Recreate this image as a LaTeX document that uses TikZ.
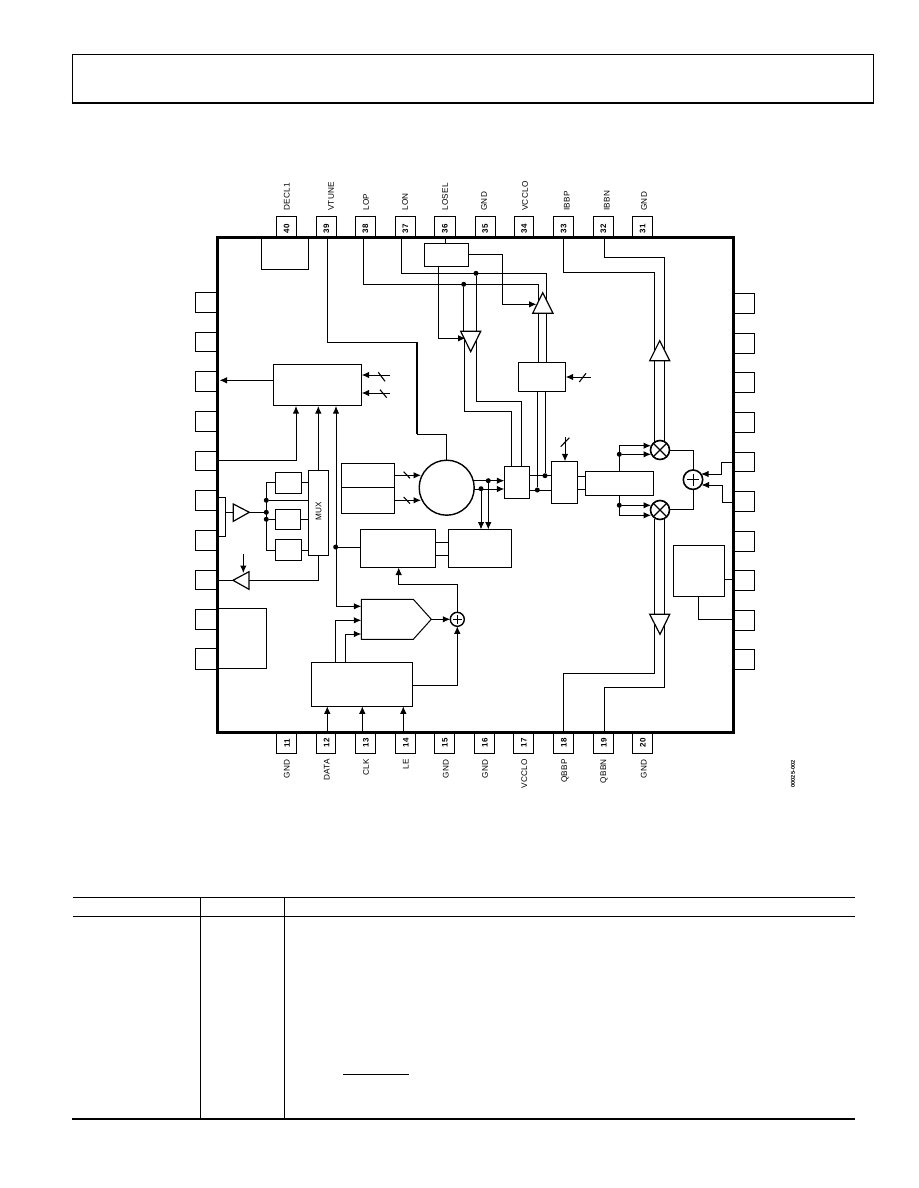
\documentclass[tikz,border=0pt]{standalone}
\usepackage{fontspec}
\setmainfont{Liberation Sans}
\newfontfamily\labfont[LetterSpace=4]{Liberation Sans}
\usetikzlibrary{arrows.meta,calc}
\tikzset{
 x=1pt,y=-1pt,
 wire/.style={line width=1pt,line join=miter},
 arr/.style={wire,-{Latex[length=7.5pt,width=6.5pt]}},
 blk/.style={draw,line width=1pt,inner sep=0pt,outer sep=0pt,fill=white},
 dotn/.style={circle,fill=black,inner sep=0pt,minimum size=5pt},
 shp/.style={draw,line width=1.2pt,fill=white,line join=miter},
 ring/.style={circle,draw,line width=1.4pt,inner sep=0pt,outer sep=0pt,fill=white},
 pinno/.style={rotate=90,font=\labfont\fontsize{8}{8}\selectfont\bfseries,inner sep=0pt},
 pinlab/.style={rotate=90,font=\labfont\fontsize{8.2}{8}\selectfont,inner sep=0pt},
 rule/.style={line width=1pt},
}
% \bx{name}{x1}{y1}{x2}{y2}: box node from its corners
\newcommand{\bx}[5]{%
 \pgfmathsetmacro{\bxw}{#4-#2}\pgfmathsetmacro{\bxh}{#5-#3}%
 \node[blk,minimum width=\bxw pt,minimum height=\bxh pt] (#1) at ({(#2+#4)/2},{(#3+#5)/2}) {};}
% pin: name, x1, x2, label, label x
\newcommand{\pinT}[5]{\bx{p#1}{#2}{216.5}{#3}{237.5}\node[pinno] (n#1) at ({(#2+#3)/2},229) {#1};\node[pinlab,anchor=west] (t#1) at (#5,211) {#4};}
\newcommand{\pinB}[5]{\bx{p#1}{#2}{733}{#3}{753.3}\node[pinno] (n#1) at ({(#2+#3)/2+.5},743) {#1};\node[pinlab,anchor=east] (t#1) at (#5,759) {#4};}
\newcommand{\slashm}[4]{\draw[line width=1.1pt] (#1,#2) -- (#3,#4);}
\begin{document}
\begin{tikzpicture}
\useasboundingbox (0,0) rectangle (918,1188);
\fill[white] (0,0) rectangle (918,1188);
% page header
\draw[line width=0.9pt] (72.3,103) -- (72.3,54.7) -- (873,54.7) -- (873,103);
\draw[line width=2pt] (71.5,103.5) -- (873.5,103.5);
% pins
\pinT{40}{276.3}{296.7}{DECL1}{286.7}
\pinT{39}{316.3}{336.3}{VTUNE}{331}
\pinT{38}{355.3}{375.3}{LOP}{366}
\pinT{37}{395.3}{415.3}{LON}{405}
\pinT{36}{434.3}{455.3}{LOSEL}{445}
\pinT{35}{475.3}{495}{GND}{484}
\pinT{34}{514.3}{533.7}{VCCLO}{525}
\pinT{33}{553.7}{573.7}{IBBP}{566.7}
\pinT{32}{593.3}{613.3}{IBBN}{606.7}
\pinT{31}{632.7}{652.7}{GND}{644}
\pinB{11}{276.3}{296.7}{GND}{286.7}
\pinB{12}{316.3}{335.7}{DATA}{326.7}
\pinB{13}{355.3}{375.3}{CLK}{366}
\pinB{14}{395.3}{415.3}{LE}{405.7}
\pinB{15}{434.3}{454.3}{GND}{445.7}
\pinB{16}{474.3}{494.3}{GND}{485}
\pinB{17}{513.3}{533.3}{VCCLO}{524.3}
\pinB{18}{553.3}{573.3}{QBBP}{565}
\pinB{19}{593.3}{613.3}{QBBN}{604}
\pinB{20}{632.3}{652.3}{GND}{643.7}
\bx{L1}{195.7}{292.3}{218}{312.3}\bx{L2}{195.7}{332.3}{218}{351.7}\bx{L3}{195.7}{371.3}{218}{391.3}
\bx{L4}{195.7}{411.3}{218}{431.3}\bx{L5}{195.7}{451.3}{218}{470.3}\bx{L6}{195.7}{490.3}{218}{510.3}
\bx{L7}{195.7}{530.3}{218}{550.3}\bx{L8}{195.7}{570.3}{218}{589.3}\bx{L9}{195.7}{609.3}{218}{629.3}
\bx{L10}{195.7}{648.3}{218}{669.3}
\bx{R1}{733.5}{293.3}{754.7}{313.3}\bx{R2}{733.5}{333.3}{754.7}{353.3}\bx{R3}{733.5}{372.3}{754.7}{392.3}
\bx{R4}{733.5}{412.3}{754.7}{432.3}\bx{R5}{733.5}{452.3}{754.7}{471.3}\bx{R6}{733.5}{491.3}{754.7}{511.3}
\bx{R7}{733.5}{531.3}{754.7}{551.3}\bx{R8}{733.5}{570.3}{754.7}{590.3}\bx{R9}{733.5}{610.3}{754.7}{630.3}
\bx{R10}{733.5}{649.3}{754.7}{669.3}
% chip body
\node[draw,line width=2.8pt,fill=white,inner sep=0pt,minimum width=515.8pt,minimum height=494.6pt] (chip) at (475.6,485) {};
% blocks
\bx{decl}{261.7}{238}{308.3}{269.3}
\bx{losel}{424.3}{243.3}{468.7}{266.3}
\bx{lobuf}{518.3}{362.3}{565.7}{391.3}
\bx{cpb}{273.3}{364.3}{361.7}{405.7}
\bx{mux}{308.3}{470.3}{328.7}{555.3}
\node[pinlab] (muxt) at (318.5,511.5) {MUX};
\bx{sa}{275.3}{472.3}{301.7}{493.7}
\bx{sb}{275.3}{509.3}{300.7}{529.7}
\bx{sc}{275.3}{539.3}{301.7}{560.3}
\bx{biasa}{341.3}{463.3}{394.3}{487.3}
\bx{biasb}{341.3}{487.3}{394.3}{513.3}
\bx{lbox}{218}{608.3}{266.3}{668.3}
\bx{div}{504.3}{466.3}{529.3}{498.3}
\bx{quad}{551.3}{461.3}{577.7}{503.3}
\bx{phase}{585.3}{471.3}{653.7}{495.3}
\bx{pfd}{360.3}{529.3}{435.7}{567.3}
\bx{ndiv}{448.3}{529.3}{511.7}{567.3}
\bx{spi}{311.3}{662.3}{412.3}{706.3}
\bx{temp}{673.3}{545.3}{724.7}{596.7}
% round elements
\node[ring,minimum size=55pt] (vco) at (446.7,487.7) {};
\node[ring,line width=1.6pt,minimum size=19pt] (mxa) at (660,450) {};
\node[ring,line width=1.6pt,minimum size=19pt] (mxb) at (660,510) {};
\node[ring,line width=1.6pt,minimum size=19.4pt] (add) at (693,479.7) {};
\node[ring,minimum size=14pt] (sum) at (457.3,619.3) {};
\draw[line width=1.3pt] (mxa.north west) -- (mxa.south east) (mxa.north east) -- (mxa.south west);
\draw[line width=1.3pt] (mxb.north west) -- (mxb.south east) (mxb.north east) -- (mxb.south west);
\draw[line width=0.6pt] (add.north) ++(0,3.5) -- ++(0,12.5) (add.west) ++(3.5,0) -- ++(12.5,0);
\draw[line width=0.6pt] (sum.north) ++(0,2.5) -- ++(0,9) (sum.west) ++(2.5,0) -- ++(9,0);
% junction dots
\node[dotn] (d1) at (476,273.3) {};
\node[dotn] (d2) at (463.7,284.3) {};
\node[dotn] (d3) at (266.3,500.3) {};
\node[dotn] (d4) at (266.3,512.3) {};
\node[dotn] (d5) at (266.3,519.3) {};
\node[dotn] (d6) at (335.7,547) {};
\node[dotn] (d7) at (488.3,480.7) {};
\node[dotn] (d8) at (481,488.7) {};
\node[dotn] (d9) at (545,475.7) {};
\node[dotn] (d10) at (537.3,490) {};
\node[dotn] (d11) at (619.3,454.3) {};
\node[dotn] (d12) at (619.3,505.3) {};
% free ends
\coordinate (sa1) at (390,375);
\coordinate (sa2) at (390,393);
\coordinate (sa3) at (591,377);
\coordinate (sa4) at (565,437);
\coordinate (sa5) at (243.3,554);
% top connectors
\draw[wire] (p39.south -| 327.3,0) |- (417,342.3) -- (417,434.3) -| (vco.north);
\draw[line width=1.4pt] (417,342.3) -- (417,434.3);
\draw[wire] (p38.south -| 363.3,0) |- (538.7,284.3) -- (538.7,301);
\draw[wire] (p37.south -| 401.3,0) |- (546.3,273.3) -- (546.3,303);
\draw[wire] (p36.south -| 445.7,0) -- (losel.north -| 445.7,0);
\draw[arr] (losel.east |- 0,254.3) -| (502.3,304.3) -- (536.5,304.3);
\draw[arr] (losel.south -| 438.3,0) |- (465.5,338.3);
\draw[wire] (d2) -- (463.7,332) (d1) -- (476,332);
\draw[wire] (464.3,340) |- (511.5,411.3) -- (div.north -| 511.5,0);
\draw[wire] (476.7,340) |- (521.3,401.3) -- (div.north -| 521.3,0);
\draw[wire] (lobuf.north -| 538.7,0) -- (538.7,313);
\draw[wire] (lobuf.north -| 546.3,0) -- (546.3,313);
\draw[wire] (lobuf.south -| 545,0) -- (d9);
\draw[wire] (lobuf.south -| 537.3,0) -- (d10);
\draw[wire] (p33.south -| 563.3,0) |- (654.7,272.3) -- (654.7,350);
\draw[wire] (p32.south -| 604.3,0) |- (664.3,257.3) -- (664.3,350);
\draw[wire] (654.7,360) -- (654.7,441.5) (664.3,360) -- (664.3,441.5);
\draw[wire] (654.7,518.5) -- (654.7,614) (664.3,518.5) -- (664.3,614);
\draw[wire] (654.7,620) |- (563.3,673.3) -- (p18.north -| 563.3,0);
\draw[wire] (664.3,620) |- (604.3,687.3) -- (p19.north -| 604.3,0);
% triangles
\draw[shp] (542.7,292.7) -- (553,313.3) -- (532.7,313.3) -- cycle;
\draw[shp] (470.7,351.7) -- (480.7,331.3) -- (460.7,331.3) -- cycle;
\draw[shp] (659.7,340.7) -- (669.7,360.7) -- (649.7,360.7) -- cycle;
\draw[shp] (660,634.3) -- (669.7,614.3) -- (649.7,614.3) -- cycle;
\draw[shp] (249.3,512.3) -- (233.3,504) -- (233.3,521.3) -- cycle;
\draw[shp] (233,580.3) -- (249,571.7) -- (249,589.3) -- cycle;
\draw[shp,line width=1pt] (361.3,599.3) -- (413.3,599.3) -- (431.3,619.3) -- (413.3,639.3) -- (361.3,639.3) -- cycle;
% control arrows with slash
\draw[arr] (sa1) -- (cpb.east |- 0,375);
\draw[arr] (sa2) -- (cpb.east |- 0,393);
\slashm{378.3}{372.3}{385}{381.3}\slashm{380}{389.7}{386.7}{397.7}
\draw[arr] (sa3) -- (lobuf.east |- 0,377);
\slashm{579.3}{382}{586}{373.3}
\draw[arr] (sa4) -- (quad.north -| 565,0);
\slashm{560.7}{446.7}{569.3}{437.7}
\draw[arr] (sa5) -- (243.3,573);
% left side
\draw[arr] (cpb.west |- 0,380.3) -- (219.5,380.3);
\draw[arr] (219,460.3) -| (296,406);
\draw[arr] (mux.north -| 318.3,0) -- (318.3,406);
\draw[arr] (336,606.3) -- (336,406);
\draw[arr] (336,606.3) -- (361.3,606.3);
\draw[wire] (d6) -- (pfd.west |- d6);
\draw[wire] (sa.east |- 0,482.3) -- (mux.west |- 0,482.3);
\draw[wire] (sb.east) -- (mux.west |- sb.east);
\draw[wire] (sc.east |- 0,550) -- (mux.west |- 0,550);
\draw[wire] (sa.west |- 0,482.3) -| (266.3,550) -- (sc.west |- 0,550);
\draw[wire] (d3) -- (mux.west |- d3);
\draw[wire] (d5) -- (sb.west |- d5);
\draw[wire] (249.3,512.3) -- (d4);
\draw[wire] (219,497.3) -| (225.3,536.3) -- (219,536.3);
\draw[wire] (225.3,512.3) -- (233.3,512.3);
\draw[wire] (219,580.3) -- (233,580.3);
\draw[wire] (249,580.3) -| (mux.south -| 318.3,0);
% VCO region
\draw[arr] (biasa.east |- 0,475.3) -- (421,475.3);
\draw[arr] (biasb.east |- 0,500.3) -- (421,500.3);
\slashm{403.7}{471.7}{410}{478.3}\slashm{403.7}{497}{410}{503.7}
\draw[arr] (474,480.7) -- (div.west |- 0,480.7);
\draw[arr] (474,489) -- (div.west |- 0,489);
\draw[arr] (d7) -- (488.3,529.5);
\draw[arr] (d8) -- (481,529.5);
\draw[wire] (div.east |- 0,475.7) -- (quad.west |- 0,475.7);
\draw[wire] (div.east |- 0,490) -- (quad.west |- 0,490);
\draw[wire] (quad.east |- 0,476.3) -- (phase.west |- 0,476.3);
\draw[wire] (quad.east |- 0,489.3) -- (phase.west |- 0,489.3);
\draw[wire] (pfd.east |- 0,542.3) -- (ndiv.west |- 0,542.3);
\draw[wire] (pfd.east |- 0,555.3) -- (ndiv.west |- 0,555.3);
% mixers
\draw[arr] (phase.north -| 619.3,0) |- (651,445.7);
\draw[arr] (d11) -- (651,454.3);
\draw[arr] (phase.south -| 619.3,0) |- (651,515.3);
\draw[arr] (d12) -- (651,505.3);
\draw[wire] (mxa.east |- 0,450.3) -| (add.north);
\draw[wire] (mxb.east |- 0,509.3) -| (add.south);
\draw[arr] (732,462.3) -| (721.3,474) -- (701,474);
\draw[arr] (732,502.3) -| (722.3,485) -- (701.5,485);
\draw[wire] (temp.east |- 0,579.3) -- (732,579.3);
\draw[wire] (temp.south -| 698.7,0) |- (732,619.3);
% synth lower section
\draw[arr] (sum.north) -- ++(0,-28) -| (398.7,567.5);
\draw[arr] (431.3,619.3) -- (sum.west);
\draw[arr] (spi.east |- 0,685.3) -| (sum.south);
\draw[wire] (spi.north -| 335.7,0) |- (345,620.3);
\draw[arr] (335.7,620.3) -- (361.3,620.3);
\draw[arr] (spi.north -| 345.3,0) |- (361.3,634);
\draw[arr] (p12.north -| 327.3,0) -- (spi.south -| 327.3,0);
\draw[arr] (p13.north -| 362.3,0) -- (spi.south -| 362.3,0);
\draw[arr] (p14.north -| 403.3,0) -- (spi.south -| 403.3,0);
% part code
\node[rotate=90,inner sep=0pt,anchor=center,font=\fontsize{5.6}{6}\selectfont\bfseries] (code) at (793,774) {00025-002};
% table
\draw[rule] (72.7,897.3) -- (855,897.3) (72.7,916) -- (855,916);
\draw[rule] (200.3,897.3) -- (200.3,1118) (284.3,897.3) -- (284.3,1118);
\draw[line width=2pt] (72,1119) -- (855,1119);
\draw[rule] (343,1074) -- (409,1074);
\end{tikzpicture}
\end{document}
